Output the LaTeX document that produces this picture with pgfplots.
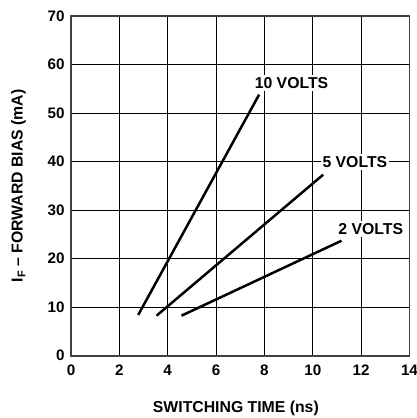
\documentclass[border=0pt]{standalone}
\usepackage{fontspec}
\setmainfont{Liberation Sans}
\usepackage{pgfplots}
\pgfplotsset{compat=1.18}
\begin{document}
\begin{tikzpicture}[x=1pt,y=1pt]
\begin{axis}[
  at={(71pt,62.3pt)}, anchor=south west,
  scale only axis, width=338.5pt, height=339.7pt,
  xmin=0, xmax=14, ymin=0, ymax=70,
  xtick={0,2,...,14}, ytick={0,10,...,70},
  major tick length=0pt,
  grid=major,
  major grid style={black, line width=0.9pt},
  axis line style={black!75, line width=1.6pt},
  font=\fontsize{15.8}{18}\selectfont\bfseries,
  tick label style={font=\fontsize{15.2}{17}\selectfont\bfseries},
  /pgf/number format/assume math mode=true,
  xticklabel style={yshift=-6pt},
  yticklabel style={xshift=-3pt},
  xlabel={SWITCHING TIME (ns)},
  ylabel={I\textsubscript{F} -- FORWARD BIAS (mA)},
  xlabel style={at={(axis description cs:0.487,-0.154)}, anchor=center},
  ylabel style={at={(axis description cs:-0.155,0.5)}, anchor=center},
  clip=false,
]
\addplot[black, line width=2.5pt] coordinates {(2.78,8.4) (7.78,53.8)};
\addplot[black, line width=2.5pt] coordinates {(3.54,8.25) (10.43,37.3)};
\addplot[black, line width=2.5pt] coordinates {(4.57,8.25) (11.19,23.7)};
\node[fill=white, inner sep=2pt, font=\fontsize{15.8}{18}\selectfont\bfseries] at (axis cs:9.12,56.2) {10 VOLTS};
\node[fill=white, inner sep=2pt, font=\fontsize{15.8}{18}\selectfont\bfseries] at (axis cs:11.74,39.9) {5 VOLTS};
\node[fill=white, inner sep=2pt, font=\fontsize{15.8}{18}\selectfont\bfseries] at (axis cs:12.4,26.1) {2 VOLTS};
\end{axis}
\pgfresetboundingbox
\path (0,0) rectangle (417,418);
\end{tikzpicture}
\end{document}
